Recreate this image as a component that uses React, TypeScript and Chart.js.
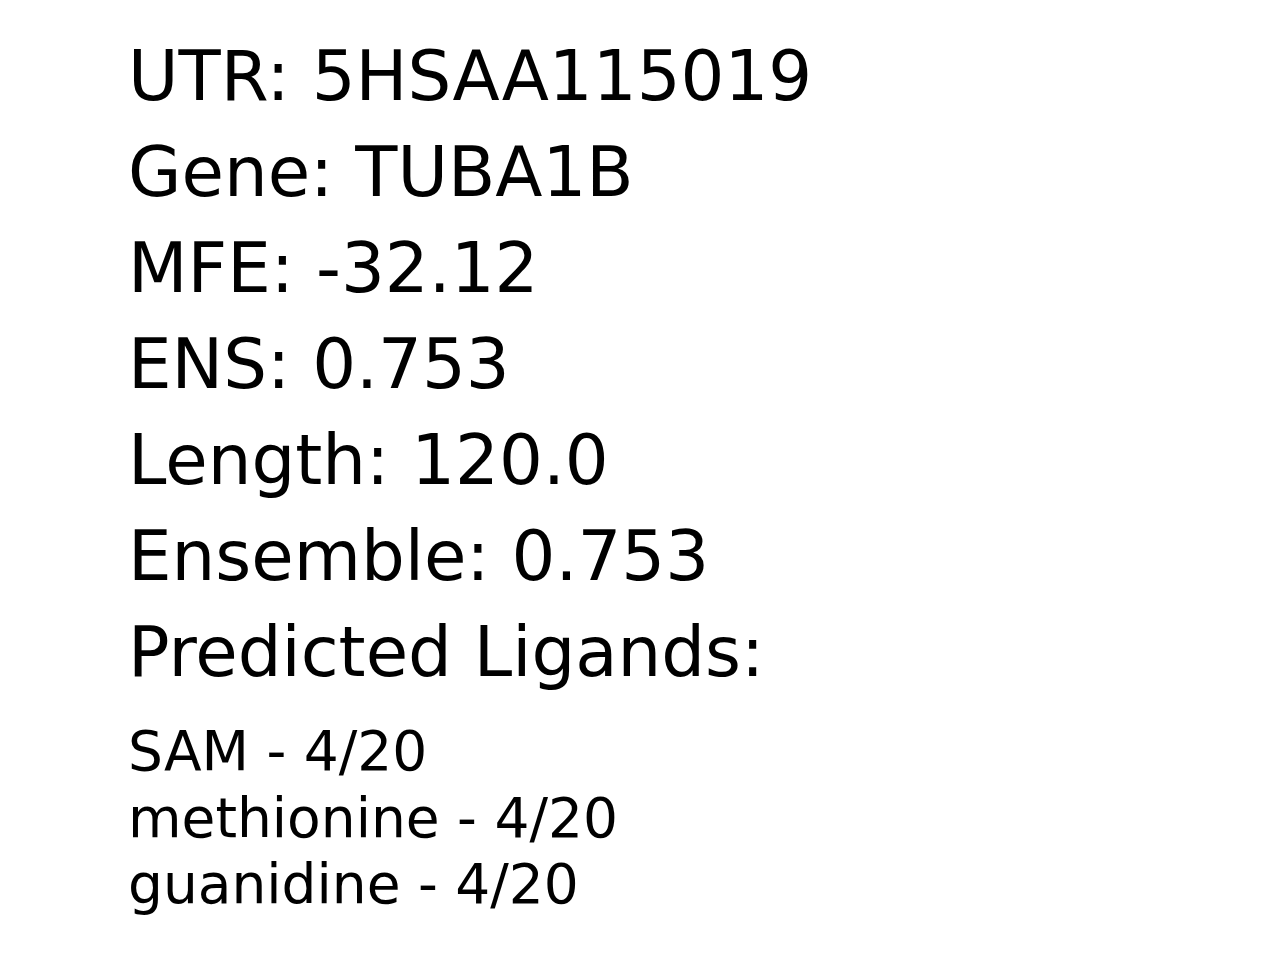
import { useEffect, useRef } from "react";
import { Chart, registerables } from "chart.js";

Chart.register(...registerables);

const fieldLabels = ["UTR", "Gene", "MFE", "ENS", "Length", "Ensemble"];
const fieldValues = ["5HSAA115019", "TUBA1B", "-32.12", "0.753", "120.0", "0.753"];
const ligandNames = ["SAM", "methionine", "guanidine"];
const ligandVotes = ["4/20", "4/20", "4/20"];

const textPlugin = {
  id: "infoText",
  afterDraw(chart: Chart) {
    const ctx = chart.ctx;
    ctx.save();
    ctx.fillStyle = "#000";
    ctx.textBaseline = "alphabetic";
    ctx.textAlign = "left";
    ctx.font = "69px 'DejaVu Sans'";
    const lines = fieldLabels.map((l, i) => `${l}: ${fieldValues[i]}`);
    lines.push("Predicted Ligands:");
    lines.forEach((t, i) => ctx.fillText(t, 128, 100 + i * 96));
    ctx.font = "55px 'DejaVu Sans'";
    ligandNames.forEach((n, i) =>
      ctx.fillText(`${n} - ${ligandVotes[i]}`, 128, 770 + i * 66.5)
    );
    ctx.restore();
  },
};

export default function App() {
  const ref = useRef<HTMLCanvasElement | null>(null);
  useEffect(() => {
    document.body.style.margin = "0";
    if (!ref.current) return;
    const chart = new Chart(ref.current, {
      type: "scatter",
      data: { datasets: [{ data: [] }] },
      options: {
        animation: false,
        responsive: false,
        events: [],
        scales: { x: { display: false }, y: { display: false } },
        plugins: { legend: { display: false }, tooltip: { enabled: false } },
      },
      plugins: [textPlugin],
    });
    return () => chart.destroy();
  }, []);
  return (
    <div style={{ width: 1280, height: 960, background: "#fff" }}>
      <canvas ref={ref} width={1280} height={960} />
    </div>
  );
}
